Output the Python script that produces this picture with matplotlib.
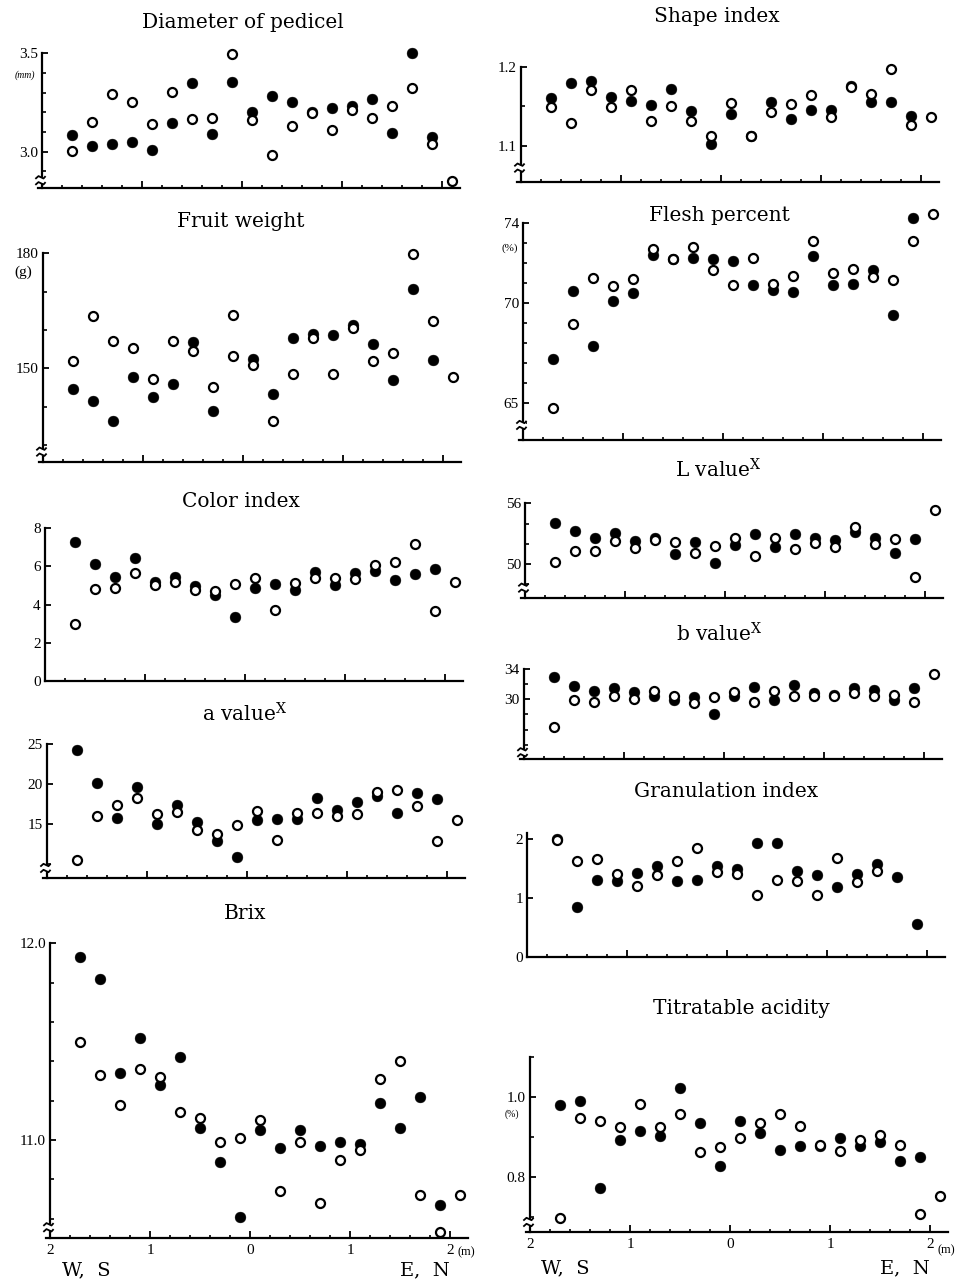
import numpy as np
import matplotlib
matplotlib.use('Agg')
import matplotlib.pyplot as plt
from matplotlib.lines import Line2D

plt.rcParams['font.family'] = 'Liberation Serif'
plt.rcParams['mathtext.fontset'] = 'dejavuserif'

W, H = 958, 1281
nan = np.nan

# distance along the row (m), W/S side negative
pos = [-1.7, -1.5, -1.3, -1.1, -0.9, -0.7, -0.5, -0.3, -0.1, 0.1,
       0.3, 0.5, 0.7, 0.9, 1.1, 1.3, 1.5, 1.7, 1.9, 2.1]

diam_f = [3.085, 3.03, 3.04, 3.05, 3.01, 3.147, 3.35, 3.09, 3.356, 3.20,
          3.285, 3.254, 3.20, 3.224, 3.232, 3.268, 3.097, 3.50, 3.076, nan]
diam_o = [3.005, 3.153, 3.293, 3.254, 3.139, 3.305, 3.166, 3.173, 3.497, 3.161,
          2.983, 3.132, 3.198, 3.11, 3.212, 3.17, 3.232, 3.322, 3.039, 2.851]

fruit_f = [144.6, 141.5, 136.3, 147.8, 142.6, 145.9, 156.7, 138.7, nan, 152.3,
           143.2, 157.8, 158.9, 158.7, 161.3, 156.3, 146.8, 170.7, 152.2, nan]
fruit_o = [152.0, 163.7, 157.0, 155.2, 147.2, 157.2, 154.5, 145.0, 163.9, 150.9,
           136.3, 148.5, 157.8, 148.5, 160.4, 152.0, 153.9, 179.8, 162.3, 147.8]
fruit_o_extra_x = [-0.1]
fruit_o_extra = [153.2]

color_f = [7.26, 6.13, 5.42, 6.44, 5.20, 5.46, 5.00, 4.49, 3.34, 4.86,
           5.07, 4.78, 5.71, 5.03, 5.63, 5.74, 5.29, 5.59, 5.88, nan]
color_o = [3.00, 4.81, 4.86, 5.63, 5.03, 5.20, 4.75, 4.70, 5.08, 5.37,
           3.73, 5.12, 5.40, 5.37, 5.34, 6.08, 6.22, 7.15, 3.68, 5.20]

a_f = [24.29, 20.13, 15.83, 19.63, 15.0, 17.42, 15.25, 12.96, 10.88, 15.54,
       15.63, 15.63, 18.25, 16.79, 17.83, 18.54, 16.38, 18.96, 18.13, nan]
a_o = [10.54, 16.08, 17.42, 18.25, 16.29, 16.5, 14.29, 13.79, 14.92, 16.71,
       13.04, 16.38, 16.38, 16.08, 16.29, 19.0, 19.29, 17.29, 12.96, 15.54]

brix_f = [11.93, 11.82, 11.34, 11.52, 11.28, 11.42, 11.06, 10.89, 10.61, 11.05,
          10.96, 11.05, 10.97, 10.99, 10.98, 11.19, 11.06, 11.22, 10.67, nan]
brix_o = [11.50, 11.33, 11.18, 11.36, 11.32, 11.14, 11.11, 10.99, 11.01, 11.10,
          10.74, 10.99, 10.68, 10.90, 10.95, 11.31, 11.40, 10.72, 10.53, 10.72]

shape_f = [1.160, 1.180, 1.182, 1.162, 1.157, 1.152, 1.172, 1.144, 1.103, 1.141,
           1.113, 1.155, 1.134, 1.145, 1.145, 1.176, 1.156, 1.155, 1.138, nan]
shape_o = [1.149, 1.129, 1.171, 1.149, 1.171, 1.131, 1.151, 1.131, 1.113, 1.154,
           1.113, 1.143, 1.153, 1.164, 1.137, 1.175, 1.166, 1.197, 1.126, 1.137]

flesh_f = [67.22, 70.62, 67.87, 70.12, 70.5, 72.42, 72.22, 72.28, 72.22, 72.13,
           70.92, 70.67, 70.55, 72.37, 70.92, 70.97, 71.67, 69.42, 74.28, nan]
flesh_o = [64.78, 68.97, 71.25, 70.88, 71.2, 72.72, 72.22, 72.83, 71.67, 70.92,
           72.25, 70.95, 71.37, 73.12, 71.53, 71.7, 71.33, 71.17, 73.12, 74.47]

l_f = [54.09, 53.3, 52.54, 53.04, 52.28, 52.54, 50.96, 52.15, 50.13, 51.88,
       52.94, 51.72, 52.94, 52.54, 52.38, 53.2, 52.54, 51.12, 52.48, nan]
l_o = [50.23, 51.29, 51.29, 52.28, 51.62, 52.38, 52.15, 51.06, 51.78, 52.54,
       50.83, 52.61, 51.49, 52.05, 51.65, 53.63, 51.98, 52.48, 48.75, 55.35]

b_f = [32.89, 31.69, 31.11, 31.42, 30.98, 30.44, 29.87, 30.31, 28.09, 30.44,
       31.64, 29.87, 31.87, 30.8, 30.58, 31.42, 31.24, 29.87, 31.42, nan]
b_o = [26.31, 29.87, 29.69, 30.44, 30.0, 31.11, 30.44, 29.47, 30.31, 30.98,
       29.69, 31.11, 30.44, 30.44, 30.44, 30.8, 30.44, 30.58, 29.64, 33.33]

gran_f = [2.0, 0.84, 1.31, 1.28, 1.42, 1.54, 1.29, 1.31, 1.54, 1.49,
          1.94, 1.94, 1.46, 1.39, 1.19, 1.40, 1.58, 1.35, 0.56, nan]
gran_o = [1.98, 1.62, 1.66, 1.40, 1.21, 1.39, 1.63, 1.85, 1.44, 1.40,
          1.05, 1.31, 1.28, 1.05, 1.68, 1.27, 1.46, nan, nan, nan]

ta_f = [0.979, 0.99, 0.773, 0.892, 0.915, 0.902, 1.021, 0.935, 0.827, 0.94,
        0.91, 0.867, 0.878, 0.877, 0.896, 0.878, 0.888, 0.84, 0.85, nan]
ta_o = [0.698, 0.948, 0.94, 0.925, 0.982, 0.925, 0.956, 0.863, 0.875, 0.896,
        0.935, 0.956, 0.927, 0.879, 0.865, 0.893, 0.904, 0.879, 0.708, 0.753]

xtick_labels = ['2', '1', '0', '1', '2']

fig = plt.figure(figsize=(W / 100, H / 100), dpi=100)


def ftext(x, y, s, **kw):
    fig.text(x / W, 1 - y / H, s, **kw)


def fline(xs, ys, **kw):
    fig.add_artist(Line2D([x / W for x in xs], [1 - y / H for y in ys],
                          transform=fig.transFigure, **kw))


def break_mark(x, y):
    fline([x, x], [y - 3, y + 3], color='white', lw=3.5, solid_capstyle='butt')
    for dy in (-3, 3):
        fline([x - 6, x - 3.5, x - 1, x + 1.5, x + 3],
              [y + dy + 1, y + dy - 1.2, y + dy, y + dy + 1.2, y + dy - 0.5],
              color='black', lw=1.3)


def panel(left, base, ybot, ppu, ytop, major, minor, labels=None, brk=10, xlab=False):
    xl = -2.04 if brk else -2.0
    xr = 2.18
    ax = fig.add_axes([(left + (xl + 2) * 100) / W, (H - base) / H,
                       (xr - xl) * 100 / W, (ytop - ybot) * ppu / H])
    ax.set_xlim(xl, xr)
    ax.set_ylim(ybot, ytop)
    ax.patch.set_visible(False)
    ax.spines['top'].set_visible(False)
    ax.spines['right'].set_visible(False)
    ax.spines['left'].set_position(('data', -2))
    ax.spines['left'].set_linewidth(1.6)
    ax.spines['bottom'].set_linewidth(1.6)
    ax.set_yticks(major)
    ax.set_yticks(minor, minor=True)
    ax.set_yticklabels(labels if labels else [str(v) for v in major])
    ax.set_xticks([-2, -1, 0, 1, 2])
    ax.set_xticks(np.round(np.arange(-1.8, 2.01, 0.2), 1), minor=True)
    ax.set_xticklabels(xtick_labels)
    ax.tick_params(axis='x', which='major', direction='in', length=5, width=1.3,
                   labelsize=11, pad=4, labelbottom=xlab)
    ax.tick_params(axis='x', which='minor', direction='in', length=2.5, width=1.2)
    ax.tick_params(axis='y', which='major', direction='in', length=4, width=1.3,
                   labelsize=11, pad=3)
    ax.tick_params(axis='y', which='minor', direction='in', length=3, width=1.2)
    if brk:
        break_mark(left, base - brk)
    return ax


def dots(ax, filled, opened):
    ax.plot(pos, filled, 'o', color='black', ms=7.8, mew=0.3, clip_on=False, zorder=3)
    ax.plot(pos, opened, 'o', mfc='white', mec='black', ms=6.5, mew=1.6,
            clip_on=False, zorder=4)


tkw = dict(ha='center', va='baseline', fontsize=14.5, family='DejaVu Serif')

# ---- left column ----
ax = panel(42, 188.3, 2.814, 196.7, 3.5, [3.0, 3.5], [2.9, 3.1, 3.2, 3.3, 3.4], brk=8)
dots(ax, diam_f, diam_o)
ftext(243, 28, 'Diameter of pedicel', **tkw)
ftext(25, 75, '(mm)', ha='center', va='center', fontsize=7, style='italic')

ax = panel(43, 461.7, 125.6, 3.833, 180, [150, 180], [130, 140, 160, 170])
dots(ax, fruit_f, fruit_o)
ax.plot(fruit_o_extra_x, fruit_o_extra, 'o', mfc='white', mec='black', ms=6.5, mew=1.6, zorder=4)
ftext(241, 227, 'Fruit weight', **tkw)
ftext(23, 272, '(g)', ha='center', va='center', fontsize=11)

ax = panel(45, 681, 0, 19.1, 8, [0, 2, 4, 6, 8], [], brk=0)
dots(ax, color_f, color_o)
ftext(241, 507, 'Color index', **tkw)

ax = panel(47, 878, 8.29, 8.0, 25, [15, 20, 25], [10])
dots(ax, a_f, a_o)
ftext(245, 722, r'a value$^{\mathrm{X}}$', **tkw)

ax = panel(50, 1238.3, 10.5, 196.7, 12.0, [11.0, 12.0],
           [10.6, 10.8, 11.2, 11.4, 11.6, 11.8], labels=['11.0', '12.0'], brk=11, xlab=True)
dots(ax, brix_f, brix_o)
ftext(245, 919, 'Brix', **tkw)
ftext(466, 1252, '(m)', ha='center', va='center', fontsize=9)
ftext(86, 1270, 'W,  S', ha='center', va='center', fontsize=14, family='DejaVu Serif')
ftext(425, 1270, 'E,  N', ha='center', va='center', fontsize=14, family='DejaVu Serif')

# ---- right column ----
ax = panel(521, 181.7, 1.055, 793, 1.2, [1.1, 1.2], [1.15], brk=14)
dots(ax, shape_f, shape_o)
ftext(717, 22, 'Shape index', **tkw)

ax = panel(523, 440, 63.17, 20, 74, [65, 70, 74], [64, 66, 67, 68, 69, 71, 72, 73], brk=15)
dots(ax, flesh_f, flesh_o)
ftext(719, 221, 'Flesh percent', **tkw)
ftext(510, 248, '(%)', ha='center', va='center', fontsize=8)

ax = panel(525, 597.7, 46.66, 10.1, 56, [50, 56], [48, 52, 54])
dots(ax, l_f, l_o)
ftext(718, 477, r'L value$^{\mathrm{X}}$', **tkw)

ax = panel(524, 759.3, 22.1, 7.6, 34, [30, 34], [24, 26, 28, 32], brk=7)
dots(ax, b_f, b_o)
ftext(719, 641, r'b value$^{\mathrm{X}}$', **tkw)

ax = panel(527, 956.7, 0, 58.8, 2.1, [0, 1, 2], [], brk=0)
dots(ax, gran_f, gran_o)
ftext(726, 797, 'Granulation index', **tkw)

ax = panel(530, 1232, 0.662, 400, 1.1, [0.8, 1.0], [0.7, 0.9, 1.1],
           labels=['0.8', '1.0'], xlab=True)
dots(ax, ta_f, ta_o)
ftext(741, 1014, 'Titratable acidity', **tkw)
ftext(512, 1114, '(%)', ha='center', va='center', fontsize=7)
ftext(946, 1250, '(m)', ha='center', va='center', fontsize=9)
ftext(565, 1268, 'W,  S', ha='center', va='center', fontsize=14, family='DejaVu Serif')
ftext(905, 1268, 'E,  N', ha='center', va='center', fontsize=14, family='DejaVu Serif')

fig.savefig('out.png', dpi=100)
